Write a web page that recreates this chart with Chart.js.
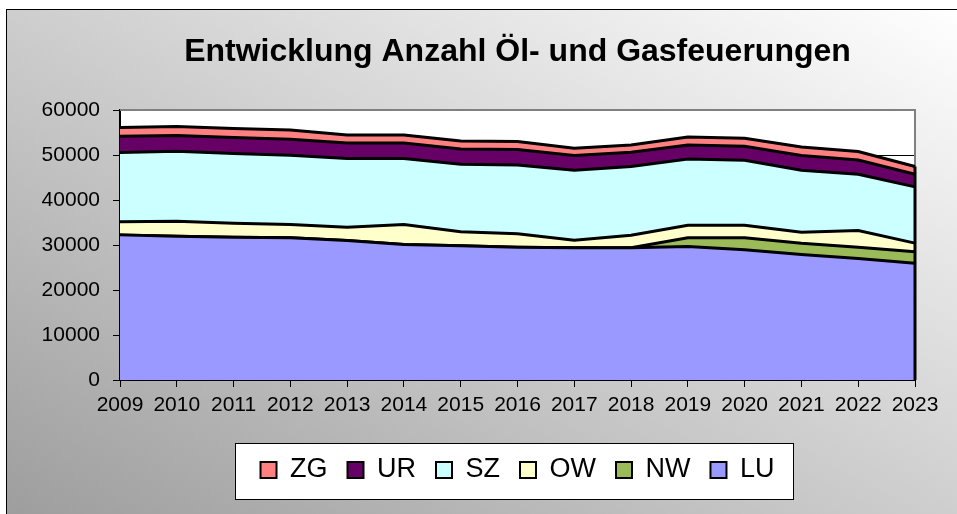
<!DOCTYPE html>
<html>
<head>
<meta charset="utf-8">
<script src="https://cdn.jsdelivr.net/npm/chart.js@4.4.1/dist/chart.umd.min.js"></script>
<style>
    html, body { margin: 0; padding: 0; background: #fff; overflow: hidden; }
    #frame {
        position: absolute; left: 6px; top: 9px; width: 960px; height: 520px;
        border: 1px solid #000;
        background: linear-gradient(to top right, #9c9c9c, #ffffff);
    }
    #wrap { position: absolute; left: 0; top: 0; width: 957px; height: 514px; }
</style>
</head>
<body>
<div id="frame"></div>
<div id="wrap"><canvas id="myChart" width="957" height="514"></canvas></div>
<script>
// Jahre und Anzahl Anlagen pro Kanton (gestapelt)
const years = ['2009', '2010', '2011', '2012', '2013', '2014', '2015', '2016', '2017', '2018', '2019', '2020', '2021', '2022', '2023'];
const lu = [32250, 31960, 31740, 31590, 31010, 30120, 29810, 29520, 29370, 29370, 29680, 28920, 27900, 27010, 25970];
const nw = [0, 0, 0, 0, 0, 0, 0, 0, 0, 0, 1910, 2670, 2510, 2510, 2510];
const ow = [2890, 3330, 3110, 2970, 2950, 4440, 3110, 2960, 1710, 2820, 2820, 2820, 2440, 3710, 1930];
const sz = [15400, 15540, 15470, 15380, 15250, 14650, 15030, 15310, 15540, 15250, 14710, 14420, 13770, 12500, 12500];
const ur = [3620, 3490, 3550, 3560, 3470, 3470, 3390, 3420, 3260, 3170, 3110, 3110, 3260, 3170, 2820];
const zg = [1930, 1990, 2000, 2060, 1770, 1770, 1780, 1780, 1620, 1620, 1780, 1780, 1910, 1870, 1710];
const yTicks = [0, 10000, 20000, 30000, 40000, 50000, 60000];

window.onload = function() {

    let ctx = document.getElementById('myChart');
    Chart.defaults.font.family = '"Liberation Sans", Arial, sans-serif';
    Chart.defaults.color = '#000';
    Chart.defaults.plugins.tooltip.enabled = false;

    // weisser Plotbereich, Legendenrahmen, Rand rechts
    const deco = {
        id: 'deco',
        beforeDraw(chart) {
            const c = chart.ctx, a = chart.chartArea;
            c.save();
            c.fillStyle = '#fff';
            c.fillRect(a.left, a.top, a.right - a.left, a.bottom - a.top);
            const hb = chart.legend.legendHitBoxes;
            if (hb && hb.length) {
                const first = hb[0], last = hb[hb.length - 1];
                const x0 = Math.round(first.left - 26), x1 = Math.round(last.left + last.width + 19);
                const y0 = Math.round(first.top - 14), y1 = Math.round(first.top + 42);
                c.fillRect(x0, y0, x1 - x0, y1 - y0);
                c.strokeStyle = '#000';
                c.lineWidth = 1;
                c.strokeRect(x0 + 0.5, y0 + 0.5, x1 - x0, y1 - y0);
            }
            c.restore();
        },
        beforeDatasetsDraw(chart) {
            const c = chart.ctx, a = chart.chartArea;
            c.save();
            c.strokeStyle = '#808080';
            c.lineWidth = 2;
            c.beginPath();
            c.moveTo(a.left, a.top);
            c.lineTo(a.right, a.top);
            c.lineTo(a.right, a.bottom);
            c.stroke();
            c.restore();
        },
        afterDatasetsDraw(chart) {
            const c = chart.ctx;
            const xs = chart.scales.x, ys = chart.scales.y;
            const i = years.length - 1;
            const total = lu[i] + nw[i] + ow[i] + sz[i] + ur[i] + zg[i];
            const x = xs.getPixelForValue(i);
            c.save();
            c.strokeStyle = '#000';
            c.lineWidth = 3;
            c.beginPath();
            c.moveTo(x, ys.getPixelForValue(0));
            c.lineTo(x, ys.getPixelForValue(total));
            c.stroke();
            c.restore();
        }
    };

    function area(label, values, color, fill) {
        return {
            type: 'line',
            label: label,
            data: values,
            backgroundColor: color,
            borderColor: '#000',
            borderWidth: 3,
            pointRadius: 0,
            tension: 0,
            fill: fill
        };
    }

    let data = {
        labels: years,
        datasets: [
            area('LU', lu, '#9999ff', 'origin'),
            area('NW', nw, '#9bbb59', '-1'),
            area('OW', ow, '#ffffcc', '-1'),
            area('SZ', sz, '#ccffff', '-1'),
            area('UR', ur, '#660066', '-1'),
            area('ZG', zg, '#ff8080', '-1')
        ]
    };

    let myChart = new Chart(ctx, {
        type: 'line',
        data: data,
        plugins: [deco],
        options: {
            responsive: false,
            animation: false,
            layout: { padding: { top: 0, left: 42, right: 42, bottom: 20.5 } },
            plugins: {
                title: {
                    display: true,
                    fullSize: false,
                    text: 'Entwicklung Anzahl Öl- und Gasfeuerungen',
                    font: { size: 32, weight: 'bold' },
                    padding: { top: 33, bottom: 38.6 }
                },
                legend: {
                    position: 'bottom',
                    fullSize: false,
                    reverse: true,
                    labels: {
                        boxWidth: 16,
                        boxHeight: 16,
                        padding: 20,
                        font: { size: 27 },
                        generateLabels(chart) {
                            const items = Chart.defaults.plugins.legend.labels.generateLabels(chart);
                            items.forEach(it => { it.lineWidth = 2; it.strokeStyle = '#000'; });
                            return items;
                        }
                    }
                }
            },
            scales: {
                x: {
                    ticks: { autoSkip: false, maxRotation: 0, padding: 6, font: { size: 21 } },
                    grid: { drawOnChartArea: false, color: '#000', tickLength: 7 },
                    border: { color: '#000', width: 2 },
                    afterFit(s) { s.height = 56.5; }
                },
                y: {
                    stacked: true,
                    min: yTicks[0],
                    max: yTicks[yTicks.length - 1],
                    ticks: { stepSize: 10000, padding: 13, font: { size: 21 }, callback: v => String(v) },
                    grid: { color: '#000', lineWidth: 1, tickLength: 7 },
                    border: { color: '#000', width: 2 },
                    afterFit(s) { s.width = 78; }
                }
            }
        }
    });
};
</script>
</body>
</html>
